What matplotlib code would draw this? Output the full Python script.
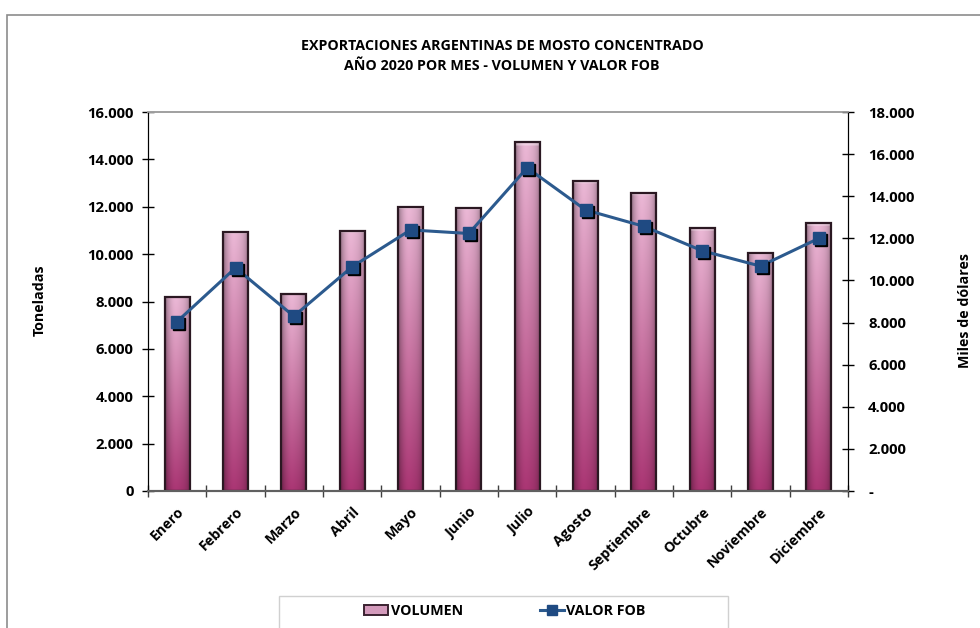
import numpy as np
import matplotlib
matplotlib.use("Agg")
import matplotlib.pyplot as plt
from matplotlib.patches import Rectangle
from matplotlib.lines import Line2D
from matplotlib.colors import to_rgb
import matplotlib.transforms as mtrans

# ---------------- data ----------------
months = ["Enero", "Febrero", "Marzo", "Abril", "Mayo", "Junio", "Julio",
          "Agosto", "Septiembre", "Octubre", "Noviembre", "Diciembre"]
volumen = [8200, 10950, 8320, 10990, 12000, 11950, 14730,
           13100, 12590, 11100, 10050, 11300]
valor_fob = [8050, 10600, 8300, 10650, 12400, 12230, 15350,
             13350, 12570, 11410, 10680, 12000]
left_ticks = [0, 2000, 4000, 6000, 8000, 10000, 12000, 14000, 16000]
right_ticks = [0, 2000, 4000, 6000, 8000, 10000, 12000, 14000, 16000, 18000]

title = "EXPORTACIONES ARGENTINAS DE MOSTO CONCENTRADO\nAÑO 2020 POR MES - VOLUMEN Y VALOR FOB"

FONT = ["Open Sans", "DejaVu Sans"]
plt.rcParams['font.family'] = FONT
FS = 10.3

def fmt(v):
    return f"{v:,.0f}".replace(",", ".")

fig = plt.figure(figsize=(9.8, 6.28), dpi=100)
W, H = 980, 628

# outer frame
fig.patches.append(Rectangle((7 / W, -0.1), 1.2, 1 - 15 / H + 0.1, transform=fig.transFigure,
                             fill=False, edgecolor="#8c8c8c", linewidth=1.2, zorder=0))
# legend frame
fig.patches.append(Rectangle((279 / W, -0.1), 449 / W, 0.1 + (628 - 596) / H,
                             transform=fig.transFigure, fill=False,
                             edgecolor="#d0d0d0", linewidth=1.0, zorder=0))

ax = fig.add_axes([148 / W, 1 - 491 / H, 700 / W, 379 / H])
ax2 = ax.twinx()

x = np.arange(len(months))
bw = 0.43

top_c = np.array(to_rgb("#e0b0cc"))
bot_c = np.array(to_rgb("#a2336e"))

for xi, v in zip(x, volumen):
    ny, nx = 200, 40
    t = np.linspace(1, 0, ny)[:, None]
    col = bot_c[None, None, :] * (1 - t[..., None]) + top_c[None, None, :] * t[..., None]
    col = np.repeat(col, nx, axis=1)
    u = np.linspace(-1, 1, nx)
    shade = 1 - 0.35 * np.abs(u) ** 3 + 0.05 * np.exp(-((u + 0.2) / 0.4) ** 2)
    col = col * shade[None, :, None]
    bev = np.zeros(ny)
    nb = max(2, int(ny * min(0.04, 400 / v * 0.04)))
    bev[:nb] = 0.35
    col = col + (1 - col) * bev[:, None, None]
    col = np.clip(col, 0, 1)
    im = ax.imshow(col, extent=[xi - bw / 2, xi + bw / 2, 0, v], aspect="auto",
                   origin="upper", zorder=2, interpolation="bilinear")
    rect = Rectangle((xi - bw / 2, 0), bw, v, facecolor="none",
                     edgecolor="#2b1822", linewidth=1.6, zorder=3)
    ax.add_patch(rect)
    im.set_clip_path(rect)

ax.set_xlim(-0.5, len(months) - 0.5)
ax.set_ylim(0, 16000)
ax2.set_ylim(0, 18000)

line_col = "#2c5a8e"
ax2.plot(x, valor_fob, color=line_col, linewidth=2.2, zorder=4)
shadow_tr = ax2.transData + mtrans.ScaledTranslation(2 / 100, -2 / 100, fig.dpi_scale_trans)
ax2.plot(x, valor_fob, linestyle="none", marker="s", markersize=8.5,
         color="black", transform=shadow_tr, zorder=5)
ax2.plot(x, valor_fob, linestyle="none", marker="s", markersize=8.5,
         color="#1f4a82", markeredgecolor="#1f4a82", zorder=6)

ax.set_yticks(left_ticks)
ax.set_yticklabels([fmt(v) for v in left_ticks], fontweight="bold", fontsize=FS + 0.4)
ax2.set_yticks(right_ticks)
ax2.set_yticklabels(["-" if v == 0 else fmt(v) for v in right_ticks],
                    fontweight="bold", fontsize=FS + 0.4)
ax.tick_params(axis="y", direction="inout", length=9, width=1, pad=6)
ax2.tick_params(axis="y", direction="inout", length=9, width=1, pad=10)

ax.set_xticks(x)
ax.set_xticklabels(months, rotation=45, ha="right", rotation_mode="anchor",
                   fontweight="bold", fontsize=FS)
ax.tick_params(axis="x", which="major", length=0, pad=10)
ax.set_xticks(np.arange(-0.5, len(months) + 0.5, 1), minor=True)
ax.tick_params(axis="x", which="minor", direction="inout", length=9, width=1, color="#404040")

for a in (ax, ax2):
    a.spines["top"].set_color("#a0a0a0")
    a.spines["top"].set_linewidth(1.2)
    a.spines["bottom"].set_color("#606060")
    a.spines["bottom"].set_linewidth(1.5)
    a.spines["left"].set_color("black")
    a.spines["right"].set_color("black")
    a.patch.set_visible(False)
ax2.set_zorder(ax.get_zorder() + 1)

fig.text(40 / W, 1 - 300 / H, "Toneladas", rotation=90, ha="center", va="center",
         fontweight="bold", fontsize=FS)
fig.text(965 / W, 1 - 310 / H, "Miles de dólares", rotation=90, ha="center", va="center",
         fontweight="bold", fontsize=FS)

fig.text(502 / W, 1 - 56 / H, title, ha="center", va="center", fontweight="bold",
         fontsize=FS, linespacing=1.6)

# legend
h_bar = Rectangle((0, 0), 1, 1, facecolor="#d39abb", edgecolor="#3a2230", linewidth=1.4)
h_line = Line2D([], [], color=line_col, linewidth=2.2, marker="s", markersize=7,
                markerfacecolor="#1f4a82", markeredgecolor="#1f4a82")
leg = fig.legend([h_bar, h_line], ["VOLUMEN", "VALOR FOB"], loc="center",
                 bbox_to_anchor=(505 / W, 1 - 611 / H),
                 ncol=2, frameon=False,
                 prop={"weight": "bold", "size": FS}, handlelength=1.7,
                 handletextpad=0.15, borderaxespad=0, columnspacing=5.4)

fig.savefig("out.png", dpi=100)
